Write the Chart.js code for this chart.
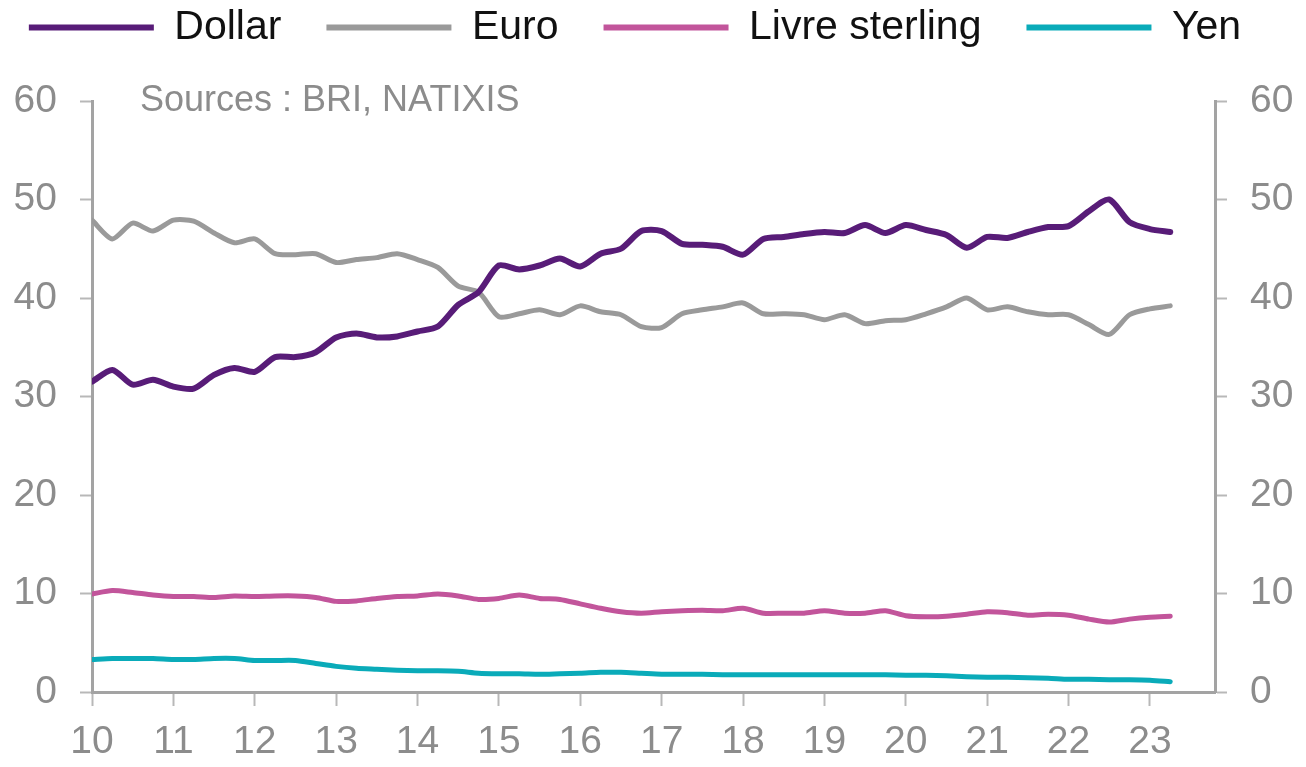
<!DOCTYPE html>
<html>
<head>
<meta charset="utf-8">
<script src="https://cdn.jsdelivr.net/npm/chart.js@4.4.1/dist/chart.umd.min.js"></script>
<style>
  html, body { margin: 0; padding: 0; background: #fff; }
  #wrap { width: 1306px; height: 767px; }
</style>
</head>
<body>
<div id="wrap"><canvas id="chart" width="1306" height="767"></canvas></div>
<script>
// Trimestres (année sur deux chiffres + fraction)
const quarters = [
  10, 10.25, 10.5, 10.75, 11, 11.25, 11.5, 11.75, 12, 12.25, 12.5, 12.75,
  13, 13.25, 13.5, 13.75, 14, 14.25, 14.5, 14.75, 15, 15.25, 15.5, 15.75,
  16, 16.25, 16.5, 16.75, 17, 17.25, 17.5, 17.75, 18, 18.25, 18.5, 18.75,
  19, 19.25, 19.5, 19.75, 20, 20.25, 20.5, 20.75, 21, 21.25, 21.5, 21.75,
  22, 22.25, 22.5, 22.75, 23, 23.25
];

// Parts (%) par devise
const dollar = [
  31.5, 32.7, 31.2, 31.7, 31.0, 30.8, 32.2, 32.9, 32.5, 34.0, 34.0, 34.5,
  36.0, 36.4, 36.0, 36.1, 36.6, 37.1, 39.3, 40.6, 43.3, 42.9, 43.3, 44.0,
  43.2, 44.5, 45.0, 46.8, 46.8, 45.5, 45.4, 45.2, 44.4, 46.0, 46.2, 46.5,
  46.7, 46.6, 47.4, 46.6, 47.4, 46.9, 46.4, 45.1, 46.2, 46.1, 46.7, 47.2,
  47.3, 48.8, 50.0, 47.7, 47.0, 46.7
];
const euro = [
  47.9, 46.0, 47.6, 46.8, 47.9, 47.8, 46.6, 45.6, 46.0, 44.5, 44.4, 44.5,
  43.6, 43.9, 44.1, 44.5, 43.9, 43.1, 41.2, 40.6, 38.1, 38.4, 38.8, 38.3,
  39.2, 38.6, 38.3, 37.1, 37.0, 38.4, 38.8, 39.1, 39.5, 38.4, 38.4, 38.3,
  37.8, 38.3, 37.4, 37.7, 37.8, 38.4, 39.1, 40.0, 38.8, 39.1, 38.6, 38.3,
  38.3, 37.3, 36.3, 38.3, 38.9, 39.2
];
const livre = [
  9.95, 10.3, 10.1, 9.85, 9.7, 9.7, 9.6, 9.75, 9.7, 9.75, 9.75, 9.6,
  9.2, 9.25, 9.5, 9.7, 9.75, 9.95, 9.75, 9.4, 9.5, 9.85, 9.5, 9.4,
  8.95, 8.5, 8.15, 8.0, 8.15, 8.25, 8.3, 8.25, 8.5, 8.0, 8.0, 8.0,
  8.25, 8.0, 8.0, 8.25, 7.75, 7.65, 7.7, 7.9, 8.15, 8.05, 7.8, 7.9,
  7.8, 7.4, 7.1, 7.4, 7.6, 7.7
];
const yen = [
  3.3, 3.4, 3.4, 3.4, 3.3, 3.3, 3.4, 3.4, 3.2, 3.2, 3.2, 2.9,
  2.6, 2.4, 2.3, 2.2, 2.15, 2.15, 2.1, 1.9, 1.85, 1.85, 1.8, 1.85,
  1.9, 2.0, 2.0, 1.9, 1.8, 1.8, 1.8, 1.75, 1.75, 1.75, 1.75, 1.75,
  1.75, 1.75, 1.75, 1.75, 1.7, 1.7, 1.65, 1.55, 1.5, 1.5, 1.45, 1.4,
  1.3, 1.3, 1.25, 1.25, 1.2, 1.05
];

const yearTicks = [10, 11, 12, 13, 14, 15, 16, 17, 18, 19, 20, 21, 22, 23];
const valueTicks = [0, 10, 20, 30, 40, 50, 60];
const sourceText = 'Sources : BRI, NATIXIS';

const FONT = "'Liberation Sans', Arial, sans-serif";
const axisGray = '#a3a3a3';
const tickGray = '#b8b8b8';
const labelGray = '#8c8c8c';

function toPoints(values) {
  return values.map((v, i) => ({ x: quarters[i], y: v }));
}

function serie(label, values, color, width) {
  return {
    label: label,
    data: toPoints(values),
    borderColor: color,
    backgroundColor: color,
    borderWidth: width
  };
}

// la légende colle au bord haut (et un peu à gauche), comme sur l'original
const legendShift = {
  id: 'legendShift',
  afterLayout(chart) {
    chart.legend.top -= 43;
    chart.legend.bottom -= 43;
    chart.legend.left -= 18;
    chart.legend.right -= 18;
  }
};

// texte des sources dans le coin haut gauche du graphique
const sourcePlugin = {
  id: 'sourceNote',
  afterDraw(chart) {
    const { ctx, chartArea } = chart;
    ctx.save();
    ctx.font = '36px ' + FONT;
    ctx.fillStyle = labelGray;
    ctx.textBaseline = 'middle';
    ctx.textAlign = 'left';
    ctx.fillText(sourceText, chartArea.left + 48, chartArea.top);
    ctx.restore();
  }
};

function yAxis(position, width) {
  return {
    type: 'linear',
    position: position,
    min: 0,
    max: 60,
    afterBuildTicks: s => { s.ticks = valueTicks.map(v => ({ value: v })); },
    afterFit: s => { s.width = width; s.paddingTop = 101; },
    ticks: { font: { family: FONT, size: 39 }, color: labelGray, padding: 23 },
    grid: { drawOnChartArea: false, tickLength: 12, tickColor: tickGray, tickWidth: 2 },
    border: { color: axisGray, width: 3 }
  };
}

const ctx = document.getElementById('chart').getContext('2d');
const chart = new Chart(ctx, {
  type: 'line',
  data: {
    datasets: [
      serie('Dollar', dollar, '#581c78', 6),
      serie('Euro', euro, '#9a9a9a', 5),
      serie('Livre sterling', livre, '#c2559b', 5),
      serie('Yen', yen, '#0aabb9', 5)
    ]
  },
  options: {
    responsive: false,
    animation: false,
    elements: {
      point: { radius: 0 },
      line: { tension: 0.25, borderCapStyle: 'round', borderJoinStyle: 'round' }
    },
    plugins: {
      legend: {
        position: 'top',
        labels: {
          font: { family: FONT, size: 41 },
          color: '#111111',
          boxWidth: 125,
          boxHeight: 6,
          padding: 45,
          generateLabels: c => Chart.defaults.plugins.legend.labels.generateLabels(c)
            .map(l => Object.assign(l, { lineWidth: 0 }))
        }
      },
      tooltip: { enabled: false }
    },
    scales: {
      x: {
        type: 'linear',
        min: 10,
        max: 23.8,
        afterBuildTicks: s => { s.ticks = yearTicks.map(v => ({ value: v })); },
        afterFit: s => { s.height = 75; },
        ticks: { font: { family: FONT, size: 39 }, color: labelGray, padding: 13, maxRotation: 0, autoSkip: false },
        grid: { drawOnChartArea: false, tickLength: 14, tickColor: tickGray, tickWidth: 2 },
        border: { color: axisGray, width: 3 }
      },
      y: yAxis('left', 92),
      y2: yAxis('right', 91)
    }
  },
  plugins: [legendShift, sourcePlugin]
});
</script>
</body>
</html>
